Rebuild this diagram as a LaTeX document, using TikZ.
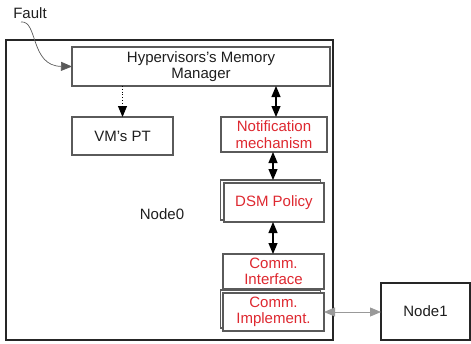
\documentclass[tikz,border=0pt]{standalone}
\usepackage{fontspec}
\setmainfont{Liberation Sans}
\usetikzlibrary{arrows.meta,calc}
\definecolor{txtred}{RGB}{222,40,48}
\definecolor{txtblk}{RGB}{30,30,30}
\definecolor{boxgray}{RGB}{90,90,90}
\tikzset{
  x=1pt,y=-1pt,
  every node/.style={font=\fontsize{15}{16.5}\selectfont, text=txtblk, inner sep=0pt, outer sep=0pt},
  plainbox/.style={draw=boxgray, line width=1.1pt, fill=white, rectangle, align=center},
  redbox/.style={plainbox, text=txtred},
  outerbox/.style={draw=black!85, line width=1.8pt, rectangle},
  onearrow/.style={-{Triangle[length=11pt,width=9pt]}},
  twoarrow/.style={{Triangle[length=11pt,width=9pt]}-{Triangle[length=11pt,width=9pt]}}
}
\begin{document}
\begin{tikzpicture}
\useasboundingbox (0,0) rectangle (471,343);
% outer Node0 box
\node[outerbox, minimum width=327pt, minimum height=300pt] (n0box) at (169.5,190) {};
\node (n0label) at (162,214) {Node0};
% boxes
\node[plainbox, minimum width=258pt, minimum height=39pt] (hyper) at (201,66.5) {Hypervisors's Memory\\Manager};
\node[plainbox, minimum width=101pt, minimum height=38pt] (vmpt) at (122.5,136) {VM's PT};
\node[redbox, minimum width=106pt, minimum height=35pt] (notif) at (274,134.5) {Notification\\mechanism};
\node[plainbox, minimum width=100pt, minimum height=40pt] (dsmback) at (270.5,200) {};
\node[redbox, minimum width=100pt, minimum height=39pt] (dsm) at (274,202.5) {DSM Policy};
\node[plainbox, minimum width=100pt, minimum height=38pt] (implback) at (270.5,309) {};
\node[redbox, minimum width=101pt, minimum height=35pt] (commint) at (273.5,271.5) {Comm.\\Interface};
\node[redbox, minimum width=101pt, minimum height=38pt] (impl) at (273.5,312) {Comm.\\Implement.};
\node[plainbox, draw=black!85, line width=1.6pt, minimum width=89pt, minimum height=57pt] (node1) at (425.5,311.5) {Node1};
% Fault
\node (fault) at (30,13) {Fault};
\coordinate (fstart) at (21,22);
\draw[gray!70!black, line width=0.7pt, onearrow] (fstart) .. controls (38,20) and (30,66) .. (hyper.west);
% connectors
\draw[black, line width=0.8pt, dotted, onearrow] (hyper.south -| vmpt.north) -- (vmpt.north);
\draw[black, line width=1.2pt, twoarrow] (hyper.south -| notif.north) ++(2,0) coordinate (a1) -- (a1 |- notif.north);
\draw[black, line width=1.2pt, twoarrow] ($(notif.south)+(-1,0)$) coordinate (a2) -- (a2 |- dsmback.north);
\draw[black, line width=1.2pt, twoarrow] ($(dsm.south)+(-1,0)$) coordinate (a3) -- (a3 |- commint.north);
\draw[gray!80, line width=0.8pt, twoarrow] (impl.east) -- (impl.east -| node1.west);
\end{tikzpicture}
\end{document}
